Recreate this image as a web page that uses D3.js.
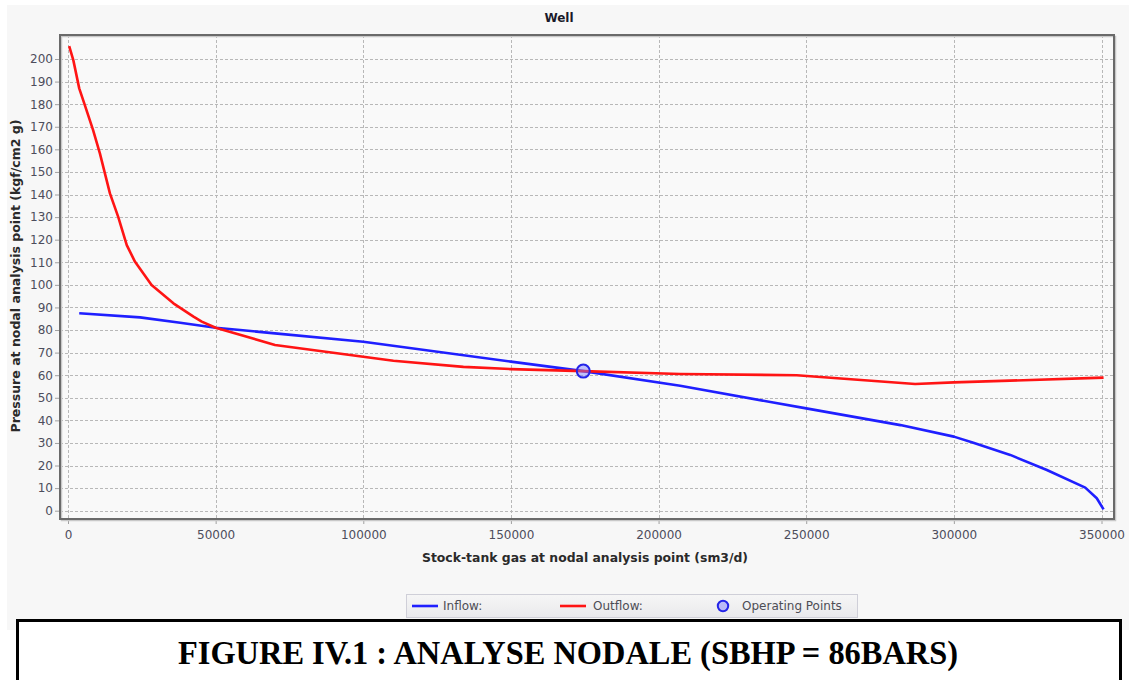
<!DOCTYPE html>
<html>
<head>
<meta charset="utf-8">
<script src="https://cdn.jsdelivr.net/npm/d3@7"></script>
<style>
  html, body { margin: 0; padding: 0; background: #ffffff; }
  svg { display: block; }
</style>
</head>
<body>
<svg id="chart" width="1135" height="680"></svg>
<script>
// ---- data ----
const chartTitle = "Well";
const xAxisTitle = "Stock-tank gas at nodal analysis point (sm3/d)";
const yAxisTitle = "Pressure at nodal analysis point (kgf/cm2 g)";
const captionText = "FIGURE IV.1 : ANALYSE NODALE (SBHP = 86BARS)";

const xTicks = [0, 50000, 100000, 150000, 200000, 250000, 300000, 350000];
const yTicks = [0, 10, 20, 30, 40, 50, 60, 70, 80, 90, 100, 110, 120, 130, 140, 150, 160, 170, 180, 190, 200];

const inflowX = [3800, 24400, 38000, 50000, 58300, 70100, 100000, 150000, 174500, 207300, 250000, 281900, 300000, 306600, 319100, 331500, 344500, 348400, 350700];
const inflowY = [87.4, 85.6, 83.2, 81.0, 80.0, 78.5, 74.8, 66.0, 61.8, 55.3, 45.3, 37.9, 32.8, 30.1, 24.7, 18.0, 10.2, 5.5, 0.6];

const outflowX = [400, 1800, 3800, 5700, 8500, 10800, 14200, 17000, 19900, 22700, 28300, 35700, 42500, 45300, 50000, 70100, 100000, 110200, 133900, 150000, 174500, 207300, 246800, 286900, 300000, 350700];
const outflowY = [205.7, 199.5, 187.0, 179.6, 168.5, 158.2, 140.5, 130.1, 117.6, 110.2, 99.9, 91.8, 85.9, 83.7, 81.0, 73.4, 68.2, 66.4, 63.7, 62.7, 61.8, 60.5, 60.0, 56.1, 56.8, 58.9];

const operatingX = [174500];
const operatingY = [61.8];

const legendLabels = ["Inflow:", "Outflow:", "Operating Points"];

// ---- layout ----
const svg = d3.select("#chart");
const frame = { left: 60, right: 1114, top: 35, bottom: 519 };
const x = d3.scaleLinear().domain([0, 350000]).range([68, 1101.5]);
const y = d3.scaleLinear().domain([0, 200]).range([510.7, 59]);

const tickFont = "'DejaVu Sans', Verdana, sans-serif";
const tickColor = "#4d4d5c";

// panel background
svg.append("rect").attr("x", 7).attr("y", 5).attr("width", 1122).attr("height", 625).attr("fill", "#f7f7f7");

// plot background
svg.append("rect")
  .attr("x", frame.left).attr("y", frame.top)
  .attr("width", frame.right - frame.left).attr("height", frame.bottom - frame.top)
  .attr("fill", "#f9f9f9");

// gridlines
const grid = svg.append("g").attr("stroke", "#b8b8b8").attr("stroke-width", 1).attr("stroke-dasharray", "3,2");
grid.selectAll("line.h").data(yTicks).join("line")
  .attr("x1", frame.left).attr("x2", frame.right)
  .attr("y1", d => Math.round(y(d)) + 0.5).attr("y2", d => Math.round(y(d)) + 0.5);
grid.selectAll("line.v").data(xTicks).join("line")
  .attr("y1", frame.top).attr("y2", frame.bottom)
  .attr("x1", d => Math.round(x(d)) + 0.5).attr("x2", d => Math.round(x(d)) + 0.5);

// axes
const yAxis = d3.axisLeft(y).tickValues(yTicks).tickSize(5).tickPadding(2).tickFormat(d3.format("d"));
const gy = svg.append("g").attr("transform", `translate(${frame.left},0)`).call(yAxis);
const xAxis = d3.axisBottom(x).tickValues(xTicks).tickSize(5).tickPadding(6).tickFormat(d3.format("d"));
const gx = svg.append("g").attr("transform", `translate(0,${frame.bottom})`).call(xAxis);
[gx, gy].forEach(g => {
  g.select(".domain").remove();
  g.selectAll(".tick line").attr("stroke", "#a0a0a0");
  g.selectAll(".tick text").attr("fill", tickColor).style("font-family", tickFont).style("font-size", "12px");
});

// clip
svg.append("clipPath").attr("id", "plotclip").append("rect")
  .attr("x", frame.left).attr("y", frame.top)
  .attr("width", frame.right - frame.left).attr("height", frame.bottom - frame.top);

const line = d3.line().x(d => x(d[0])).y(d => y(d[1]));
const inflow = d3.zip(inflowX, inflowY);
const outflow = d3.zip(outflowX, outflowY);

const plot = svg.append("g").attr("clip-path", "url(#plotclip)");
plot.append("path").datum(inflow).attr("d", line)
  .attr("fill", "none").attr("stroke", "#1f1fff").attr("stroke-width", 2.6).attr("stroke-linejoin", "round");
plot.append("path").datum(outflow).attr("d", line)
  .attr("fill", "none").attr("stroke", "#ff1414").attr("stroke-width", 2.6).attr("stroke-linejoin", "round");

// operating point
plot.selectAll("circle.op").data(d3.zip(operatingX, operatingY)).join("circle")
  .attr("cx", d => x(d[0])).attr("cy", d => y(d[1])).attr("r", 6.5)
  .attr("fill", "rgba(120,120,255,0.45)").attr("stroke", "#2424e8").attr("stroke-width", 2);

// frame
svg.append("rect")
  .attr("x", frame.left + 1.5).attr("y", frame.top + 1.5)
  .attr("width", frame.right - frame.left).attr("height", frame.bottom - frame.top)
  .attr("fill", "none").attr("stroke", "#c8c8c8").attr("stroke-width", 1.5);
svg.append("rect")
  .attr("x", frame.left).attr("y", frame.top)
  .attr("width", frame.right - frame.left).attr("height", frame.bottom - frame.top)
  .attr("fill", "none").attr("stroke", "#6a6a6a").attr("stroke-width", 2);

// titles
svg.append("text").text(chartTitle)
  .attr("x", 559).attr("y", 22).attr("text-anchor", "middle")
  .style("font-family", tickFont).style("font-size", "12px").style("font-weight", "bold").attr("fill", "#1a1a2a");
svg.append("text").text(xAxisTitle)
  .attr("x", 585).attr("y", 562).attr("text-anchor", "middle")
  .style("font-family", tickFont).style("font-size", "12px").style("font-weight", "bold").attr("fill", "#2a2a2a")
  .attr("textLength", 326).attr("lengthAdjust", "spacingAndGlyphs");
svg.append("text").text(yAxisTitle)
  .attr("transform", "translate(20,276) rotate(-90)").attr("text-anchor", "middle")
  .style("font-family", tickFont).style("font-size", "12px").style("font-weight", "bold").attr("fill", "#2a2a2a")
  .attr("textLength", 313).attr("lengthAdjust", "spacingAndGlyphs");

// legend
const defs = svg.append("defs");
const lg = defs.append("linearGradient").attr("id", "leggrad").attr("x1", 0).attr("y1", 0).attr("x2", 0).attr("y2", 1);
lg.append("stop").attr("offset", "0%").attr("stop-color", "#f6f6f6");
lg.append("stop").attr("offset", "100%").attr("stop-color", "#e9e9ec");
const leg = svg.append("g");
leg.append("rect").attr("x", 406.5).attr("y", 594.5).attr("width", 451).attr("height", 23)
  .attr("fill", "url(#leggrad)").attr("stroke", "#cfcfd8").attr("stroke-width", 1);
const legItems = [
  { label: legendLabels[0], type: "line", color: "#1f1fff", x0: 412, tx: 443 },
  { label: legendLabels[1], type: "line", color: "#ff1414", x0: 560, tx: 593 },
  { label: legendLabels[2], type: "circle", color: "#2424e8", x0: 718, tx: 742 }
];
legItems.forEach(it => {
  if (it.type === "line") {
    leg.append("line").attr("x1", it.x0).attr("x2", it.x0 + 26).attr("y1", 606).attr("y2", 606)
      .attr("stroke", it.color).attr("stroke-width", 2.6);
  } else {
    leg.append("circle").attr("cx", it.x0 + 5).attr("cy", 606).attr("r", 5.2)
      .attr("fill", "rgba(120,120,255,0.45)").attr("stroke", it.color).attr("stroke-width", 2);
  }
  leg.append("text").text(it.label).attr("x", it.tx).attr("y", 610)
    .style("font-family", tickFont).style("font-size", "12px").attr("fill", "#4d4d55");
});

// caption box
svg.append("rect").attr("x", 17.5).attr("y", 620.5).attr("width", 1103).attr("height", 70)
  .attr("fill", "#ffffff").attr("stroke", "#000000").attr("stroke-width", 3);
svg.append("text").text(captionText)
  .attr("x", 568).attr("y", 664).attr("text-anchor", "middle")
  .style("font-family", "'Liberation Serif', 'Times New Roman', serif").style("font-size", "34px").style("font-weight", "bold")
  .attr("fill", "#000")
  .attr("textLength", 780).attr("lengthAdjust", "spacingAndGlyphs");
</script>
</body>
</html>
